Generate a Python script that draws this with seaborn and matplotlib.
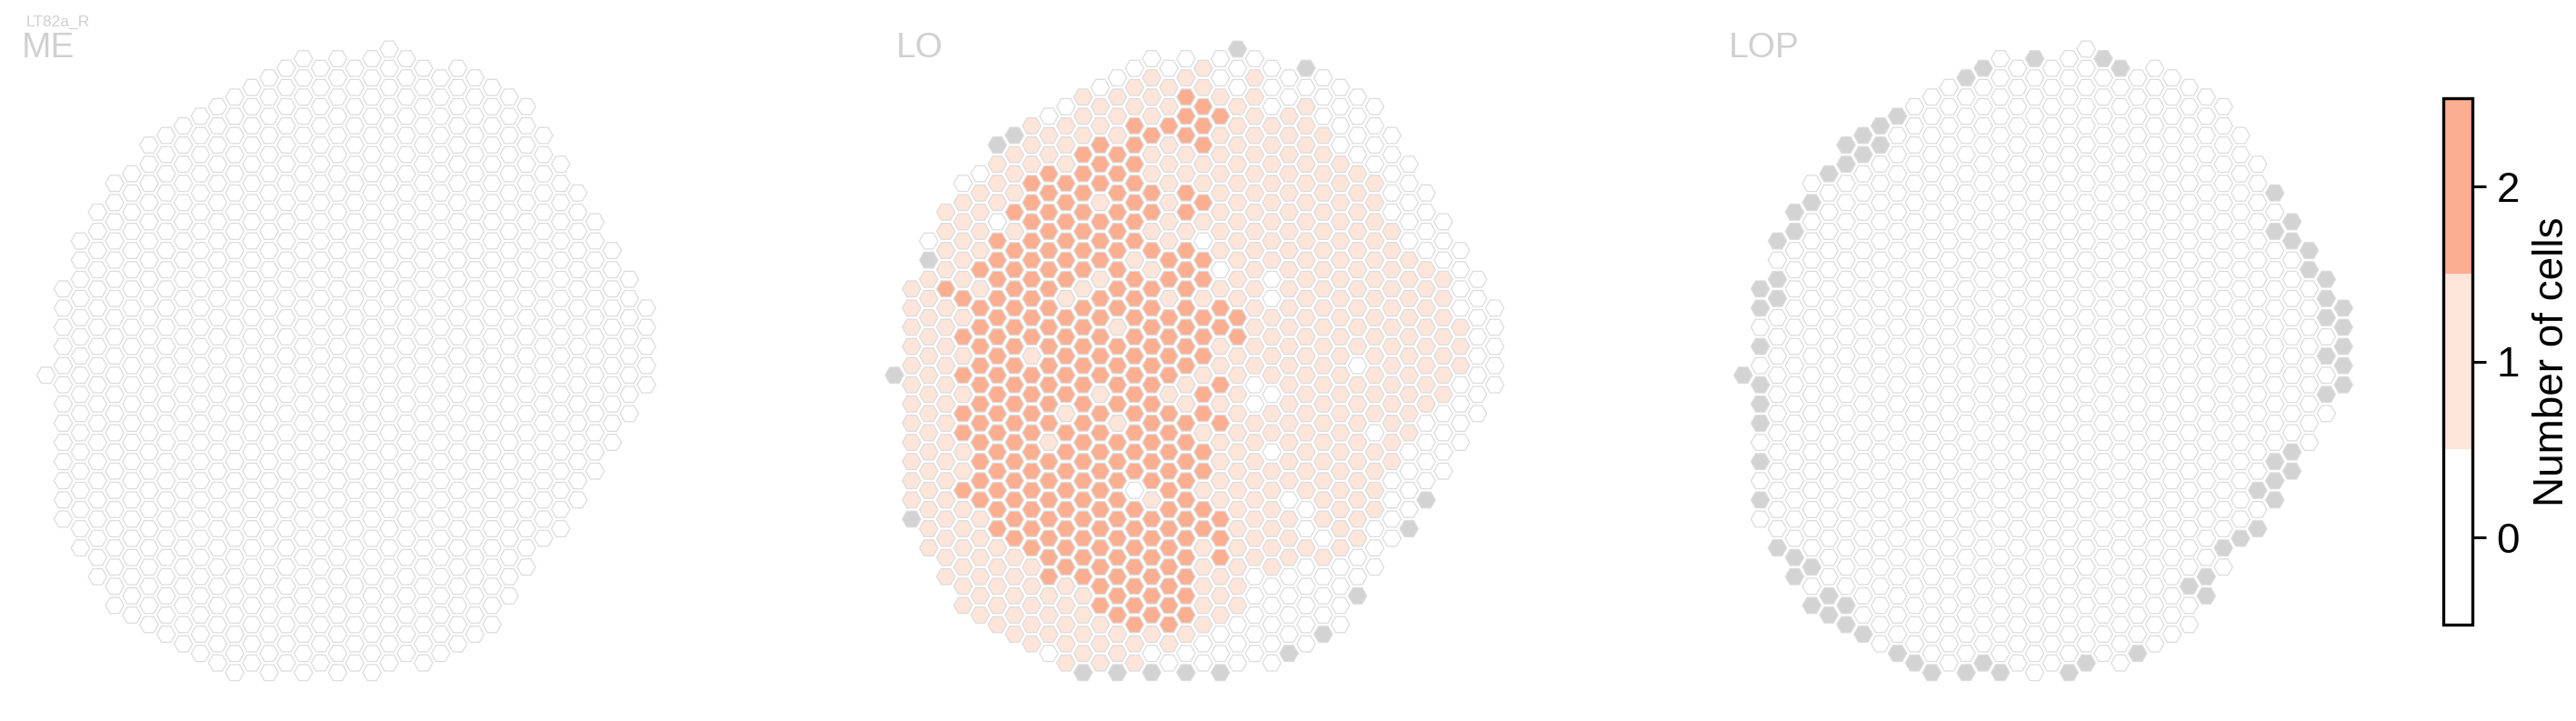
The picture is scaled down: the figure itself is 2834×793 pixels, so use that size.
import pandas as pd
import seaborn as sns
import matplotlib.pyplot as plt
from matplotlib.colors import ListedColormap, BoundaryNorm
from matplotlib.cm import ScalarMappable

# Eye map: 36 hex columns, rows step by 2 inside a column.
# Every string lists one column from its top row down (spaces only for reading).
# 0 / 1 / 2 = number of cells, x = column not present in that neuropil
col_top = [0, -9, -14, -17, -20, -21, -24, -25, -26, -27, -28, -29, -30, -31, -32, -33, -32, -33,
           -32, -33, -34, -33, -32, -31, -32, -31, -30, -29, -28, -25, -22, -19, -16, -13, -10, -7]

me_cols = [
    "0", "00000 00000 000", "00000 00000 00000 00", "00000 00000 00000 00000",
    "00000 00000 00000 00000 000", "00000 00000 00000 00000 0000",
    "00000 00000 00000 00000 00000 0", "00000 00000 00000 00000 00000 00",
    "00000 00000 00000 00000 00000 000", "00000 00000 00000 00000 00000 0000",
    "00000 00000 00000 00000 00000 00000", "00000 00000 00000 00000 00000 00000 0",
    "00000 00000 00000 00000 00000 00000 0", "00000 00000 00000 00000 00000 00000 00",
    "00000 00000 00000 00000 00000 00000 00", "00000 00000 00000 00000 00000 00000 000",
    "00000 00000 00000 00000 00000 00000 00", "00000 00000 00000 00000 00000 00000 000",
    "00000 00000 00000 00000 00000 00000 00", "00000 00000 00000 00000 00000 00000 000",
    "00000 00000 00000 00000 00000 00000 000", "00000 00000 00000 00000 00000 00000 00",
    "00000 00000 00000 00000 00000 00000 00", "00000 00000 00000 00000 00000 00000 0",
    "00000 00000 00000 00000 00000 00000 0", "00000 00000 00000 00000 00000 00000",
    "00000 00000 00000 00000 00000 0000", "00000 00000 00000 00000 00000 00",
    "00000 00000 00000 00000 00000", "00000 00000 00000 00000 00",
    "00000 00000 00000 00000", "00000 00000 00000 00", "00000 00000 0000",
    "00000 00000 0", "00000 000", "00000",
]

lo_cols = [
    "x", "11111 11111 11x", "0x111 11111 11111 11", "11112 11111 11111 11111",
    "01111 12121 21221 12111 111", "01111 21222 22222 22211 1111",
    "x1110 22222 22222 22222 21111 1", "x1112 12222 22222 22222 22111 11",
    "11122 22222 22122 22222 22211 111", "01122 22222 22222 22122 22222 1110",
    "01112 22222 12222 21222 22222 11111", "11122 22222 12222 22222 22222 21111 x",
    "01122 21222 12222 21222 22222 22211 1", "01112 22222 22212 22212 22222 22221 1x",
    "01122 22222 12222 22222 22022 22222 11", "01112 11221 21222 22222 22212 22222 10x",
    "01121 11111 22122 22122 22222 22222 10", "01222 11221 22222 22112 22222 22222 10x",
    "11222 11210 22122 21221 22122 11111 00", "00121 11111 10122 11212 11112 22111 00x",
    "x0011 11111 11112 21111 11111 11111 000", "01111 11111 11111 11001 11111 11000 00",
    "00011 11111 10011 11011 01111 11000 00", "00111 11111 11111 11111 11011 10000 x",
    "x0111 11111 11111 11111 11100 10000 0", "00011 11111 11111 11111 11110 1000x",
    "00001 11111 11111 11111 11111 0000", "00001 11111 11110 11111 11110 0x",
    "00001 11111 11111 11011 11000", "00000 11111 11111 11100 00",
    "00000 11111 11111 0000x", "00001 11111 11000 0x", "00011 11111 0000",
    "00001 11000 0", "00000 000", "00000",
]

lop_cols = [
    "x", "xx0x0 xxx0x 0x0", "x0xx0 00000 00000 0x", "xx000 00000 00000 000xx",
    "0x000 00000 00000 00000 x0x", "x0000 00000 00000 00000 00xx",
    "xx000 00000 00000 00000 0000x x", "xx000 00000 00000 00000 00000 0x",
    "xx000 00000 00000 00000 00000 000", "x0000 00000 00000 00000 00000 000x",
    "00000 00000 00000 00000 00000 0000x", "00000 00000 00000 00000 00000 00000 x",
    "00000 00000 00000 00000 00000 00000 0", "x0000 00000 00000 00000 00000 00000 0x",
    "x0000 00000 00000 00000 00000 00000 0x", "00000 00000 00000 00000 00000 00000 00x",
    "00000 00000 00000 00000 00000 00000 00", "x0000 00000 00000 00000 00000 00000 000",
    "00000 00000 00000 00000 00000 00000 00", "00000 00000 00000 00000 00000 00000 00x",
    "00000 00000 00000 00000 00000 00000 00x", "x0000 00000 00000 00000 00000 00000 00",
    "x0000 00000 00000 00000 00000 00000 00", "00000 00000 00000 00000 00000 00000 x",
    "00000 00000 00000 00000 00000 00000 0", "00000 00000 00000 00000 00000 00000",
    "00000 00000 00000 00000 00000 0x00", "00000 00000 00000 00000 00000 xx",
    "00000 00000 00000 00000 000x0", "00000 00000 00000 00000 0x",
    "00000 00000 00000 00x0x", "x0x00 00000 0000x xx", "xx000 00000 00xx",
    "xx000 00000 0", "xxx0x 0x0", "xxxxx",
]

panels = [("ME", me_cols, 50.7), ("LO", lo_cols, 984.0), ("LOP", lop_cols, 1917.7)]
title_x = {"ME": 24, "LO": 986, "LOP": 1902}
palette = {"0": "#ffffff", "1": "#fee5d9", "2": "#fcae91", "x": "#d3d3d3"}

W, H = 2834, 793
PX_COL, PX_ROW, K0_Y = 18.87, 10.55, 412.7

sns.set_theme(style="white")
plt.rcParams["font.family"] = ["Liberation Sans", "DejaVu Sans"]

fig = plt.figure(figsize=(W / 100, H / 100), dpi=100)

for name, cols, x0 in panels:
    rows = []
    for c, s in enumerate(cols):
        s = s.replace(" ", "")
        for i, v in enumerate(s):
            rows.append({"col": c, "row": col_top[c] + 2 * i, "val": v})
    df = pd.DataFrame(rows)

    left, right, top, bottom = x0 - 30, x0 + 35 * PX_COL + 30, 25, 770
    ax = fig.add_axes([left / W, 1 - bottom / H, (right - left) / W, (bottom - top) / H])
    sns.scatterplot(data=df, x="col", y="row", hue="val", palette=palette,
                    marker="H", s=215, linewidth=0.9, edgecolor="#dcdcdc",
                    legend=False, ax=ax)
    ax.set_xlim((left - x0) / PX_COL, (right - x0) / PX_COL)
    ax.set_ylim((bottom - K0_Y) / PX_ROW, (top - K0_Y) / PX_ROW)
    ax.set_axis_off()
    fig.text(title_x[name] / W, 1 - 63 / H, name, fontsize=28, color="#d0d0d0", va="baseline")

fig.text(29 / W, 1 - 29 / H, "LT82a_R", fontsize=12.5, color="#d0d0d0", va="baseline")

cax = fig.add_axes([2688 / W, 1 - 687 / H, 32 / W, 579 / H])
cmap = ListedColormap(["#ffffff", "#fee5d9", "#fcae91"])
norm = BoundaryNorm([-0.5, 0.5, 1.5, 2.5], cmap.N)
cb = fig.colorbar(ScalarMappable(norm=norm, cmap=cmap), cax=cax, ticks=[0, 1, 2])
cb.ax.minorticks_off()
cb.outline.set_linewidth(2.4)
cb.outline.set_edgecolor("black")
cb.ax.tick_params(which="major", length=11, width=2.2, labelsize=33, pad=8, colors="black")
cb.set_label("Number of cells", fontsize=33, labelpad=10, color="black")

fig.savefig("out.png", dpi=100, facecolor="white")
